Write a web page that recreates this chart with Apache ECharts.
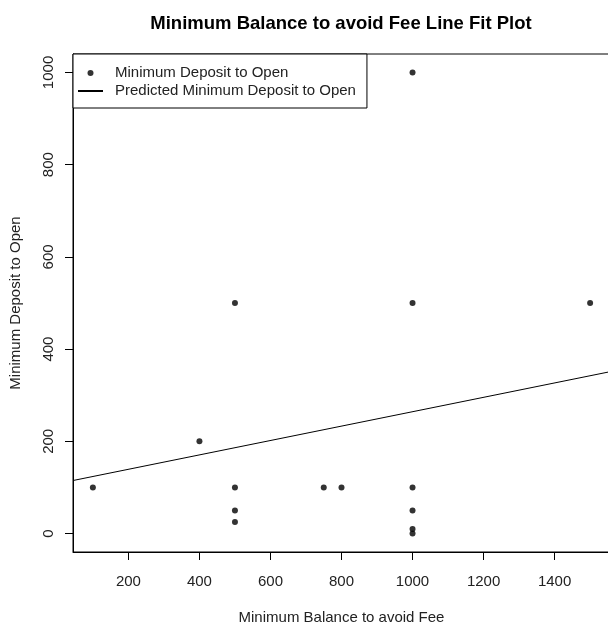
<!DOCTYPE html>
<html>
<head>
<meta charset="utf-8">
<script src="https://cdn.jsdelivr.net/npm/echarts@6/dist/echarts.min.js"></script>
<style>html,body{margin:0;padding:0;background:#fff}#c{width:608px;height:626px}</style>
</head>
<body>
<div id="c"></div>
<script>
// Observed points: Minimum Balance to avoid Fee (x) vs Minimum Deposit to Open (y)
var balance = [100, 400, 500, 500, 500, 500, 750, 800, 1000, 1000, 1000, 1000, 1000, 1000, 1500];
var deposit = [100, 200, 500, 100, 50, 25, 100, 100, 1000, 500, 100, 50, 10, 0, 500];
// Predicted line endpoints (read at the plot edges)
var lineBalance = [44, 1556];
var lineDeposit = [115, 351];
// Tick labels
var xTicks = [200, 400, 600, 800, 1000, 1200, 1400];
var yTicks = [0, 200, 400, 600, 800, 1000];

var font = 'Liberation Sans, Arial, sans-serif';
var plain = function (v) { return String(v); };
var chart = echarts.init(document.getElementById('c'), null, {renderer: 'canvas'});
chart.setOption({
  animation: false,
  backgroundColor: '#fff',
  title: {
    text: 'Minimum Balance to avoid Fee Line Fit Plot',
    left: 336, top: 9, textAlign: 'center',
    textStyle: {fontFamily: font, fontSize: 18.5, fontWeight: 'bold', color: '#000'}
  },
  grid: {left: 73, top: 54, width: 537, height: 498, show: true, borderColor: '#000', borderWidth: 1,
         backgroundColor: 'transparent', containLabel: false, outerBoundsMode: 'none'},
  legend: {
    left: 73, top: 54, orient: 'vertical',
    backgroundColor: '#fff', borderColor: '#000', borderWidth: 1,
    padding: [10, 11, 8, 4],
    itemWidth: 25, itemHeight: 6, itemGap: 0,
    textStyle: {fontFamily: font, fontSize: 15, color: '#222', lineHeight: 18, padding: [0, 0, 0, 7]},
    data: [
      {name: 'Minimum Deposit to Open', icon: 'circle'},
      {name: 'Predicted Minimum Deposit to Open', itemStyle: {opacity: 0}}
    ]
  },
  xAxis: {
    type: 'value', min: 44, max: 1556,
    name: 'Minimum Balance to avoid Fee', nameLocation: 'middle', nameGap: 58,
    nameTextStyle: {fontFamily: font, fontSize: 15, color: '#222'},
    splitLine: {show: false},
    axisLine: {show: true, onZero: false, lineStyle: {color: '#000', width: 1}},
    axisTick: {show: true, length: 8, lineStyle: {color: '#000'}, customValues: xTicks},
    axisLabel: {fontFamily: font, fontSize: 15, color: '#222', margin: 22, customValues: xTicks, formatter: plain}
  },
  yAxis: {
    type: 'value', min: -40, max: 1040,
    name: 'Minimum Deposit to Open', nameLocation: 'middle', nameGap: 50, nameRotate: 90,
    nameTextStyle: {fontFamily: font, fontSize: 15, color: '#222'},
    splitLine: {show: false},
    axisLine: {show: true, onZero: false, lineStyle: {color: '#000', width: 1}},
    axisTick: {show: true, length: 8, lineStyle: {color: '#000'}, customValues: yTicks},
    axisLabel: {fontFamily: font, fontSize: 15, color: '#222', margin: 17, rotate: 90, customValues: yTicks, formatter: plain}
  },
  series: [
    {
      name: 'Minimum Deposit to Open', type: 'scatter',
      symbol: 'circle', symbolSize: 6,
      itemStyle: {color: '#000'},
      data: balance.map(function (b, i) { return [b, deposit[i]]; })
    },
    {
      name: 'Predicted Minimum Deposit to Open', type: 'line',
      symbol: 'none', showSymbol: false,
      lineStyle: {color: '#000', width: 1},
      itemStyle: {color: '#000'},
      data: lineBalance.map(function (b, i) { return [b, lineDeposit[i]]; })
    }
  ]
});
</script>
</body>
</html>
